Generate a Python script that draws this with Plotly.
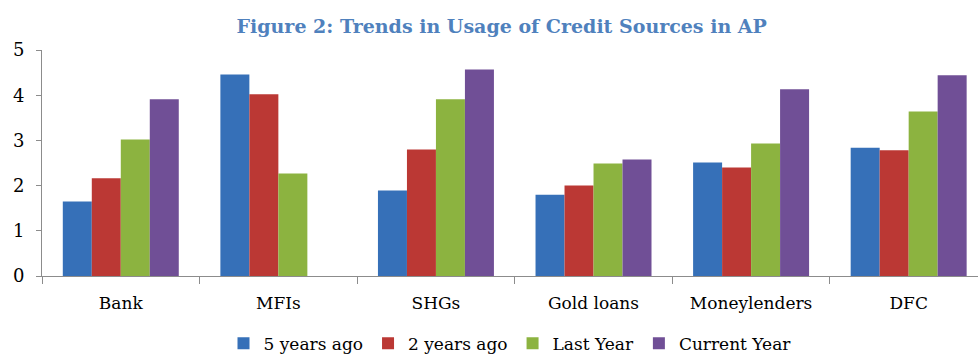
import plotly.graph_objects as go

categories = ["Bank", "MFIs", "SHGs", "Gold loans", "Moneylenders", "DFC"]
five_years_ago = [1.65, 4.46, 1.89, 1.80, 2.51, 2.84]
two_years_ago = [2.16, 4.02, 2.80, 2.00, 2.40, 2.78]
last_year = [3.02, 2.27, 3.91, 2.49, 2.93, 3.64]
current_year = [3.91, 0, 4.57, 2.58, 4.13, 4.44]
y_ticks = [0, 1, 2, 3, 4, 5]

series = [
    ("5 years ago", five_years_ago, "#3670b8"),
    ("2 years ago", two_years_ago, "#bb3834"),
    ("Last Year", last_year, "#8cb340"),
    ("Current Year", current_year, "#704f96"),
]

font_family = "DejaVu Serif"
fig = go.Figure()
for name, vals, col in series:
    fig.add_trace(go.Bar(x=categories, y=vals, name=name, marker=dict(color=col, line=dict(width=0))))

fig.update_layout(
    width=978, height=354,
    margin=dict(l=42, r=0, t=50, b=78, autoexpand=False),
    paper_bgcolor="white", plot_bgcolor="white",
    barmode="group", bargap=0.264, bargroupgap=0,
    font=dict(family=font_family, size=16, color="black"),
    title=dict(text="<b>Figure 2: Trends in Usage of Credit Sources in AP</b>",
               x=0.513, xanchor="center", y=0.925, yanchor="middle",
               font=dict(family=font_family, size=19, color="#4f81bd")),
    showlegend=True,
    legend=dict(orientation="h", x=0.5, xanchor="center", y=-0.30, yanchor="middle",
                font=dict(family=font_family, size=17), traceorder="normal",
                itemwidth=30),
)
fig.update_xaxes(range=[-0.5, 5.44], showline=True, linecolor="#8c8c8c", linewidth=1,
                 ticks="outside", tickson="boundaries", ticklen=7, tickcolor="#8c8c8c",
                 showgrid=False, tickfont=dict(size=17), ticklabelstandoff=12)
fig.update_yaxes(range=[0, 5], tickvals=y_ticks, showline=True, linecolor="#8c8c8c", linewidth=1,
                 ticks="outside", ticklen=5, tickcolor="#8c8c8c", showgrid=False, zeroline=False,
                 tickfont=dict(size=18), ticklabelstandoff=8)

fig.write_html("out.html")
